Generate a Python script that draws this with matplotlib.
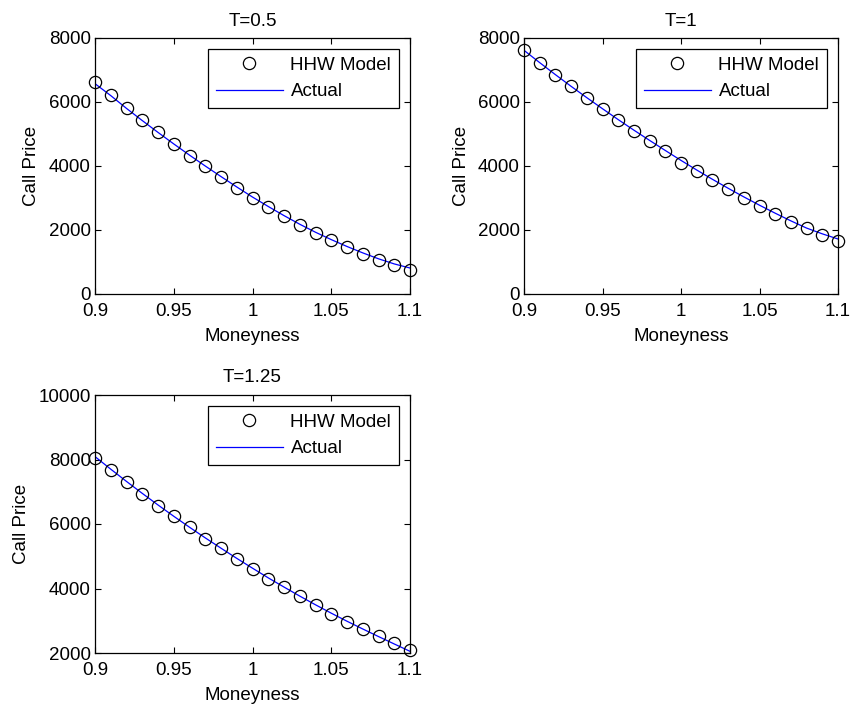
import matplotlib.pyplot as plt
import numpy as np

plt.rcParams['font.family'] = ['Liberation Sans', 'DejaVu Sans']
plt.rcParams['font.size'] = 13.5

moneyness = np.round(np.arange(0.90, 1.1001, 0.01), 2)

# T = 0.5
model_05 = [6615, 6229, 5812, 5427, 5052, 4688, 4323, 3990, 3646, 3323, 2990,
            2708, 2427, 2146, 1906, 1688, 1458, 1260, 1073, 896, 760]
actual_05 = [6573, 6200, 5800, 5420, 5050, 4690, 4340, 4000, 3670, 3345, 3030,
             2735, 2450, 2180, 1930, 1700, 1485, 1285, 1100, 940, 812]

# T = 1
model_1 = [7635, 7219, 6844, 6510, 6135, 5771, 5438, 5104, 4781, 4458, 4104,
           3833, 3552, 3271, 3000, 2760, 2490, 2260, 2052, 1844, 1646]
actual_1 = [7615, 7230, 6855, 6490, 6135, 5790, 5450, 5120, 4800, 4485, 4175,
            3875, 3585, 3305, 3035, 2775, 2525, 2285, 2060, 1880, 1719]

# T = 1.25
model_125 = [8039, 7677, 7306, 6924, 6573, 6243, 5902, 5541, 5252, 4921, 4601,
             4302, 4034, 3755, 3476, 3208, 2970, 2743, 2516, 2299, 2103]
actual_125 = [8090, 7700, 7320, 6950, 6590, 6240, 5900, 5570, 5250, 4935, 4630,
              4330, 4045, 3765, 3495, 3235, 2985, 2745, 2510, 2280, 2052]

panels = [
    ('T=0.5', model_05, actual_05, (0, 8000), [0, 2000, 4000, 6000, 8000],
     [95 / 850, (704 - 294) / 704, 315 / 850, 256 / 704]),
    ('T=1', model_1, actual_1, (0, 8000), [0, 2000, 4000, 6000, 8000],
     [524 / 850, (704 - 294) / 704, 314 / 850, 256 / 704]),
    ('T=1.25', model_125, actual_125, (2000, 10000), [2000, 4000, 6000, 8000, 10000],
     [95 / 850, (704 - 653) / 704, 315 / 850, 258 / 704]),
]

fig = plt.figure(figsize=(8.5, 7.04), dpi=100)
for title, model, actual, ylim, yticks, pos in panels:
    ax = fig.add_axes(pos)
    ax.plot(moneyness, model, 'o', mfc='none', mec='black', ms=8.8, mew=0.9,
            label='HHW Model', clip_on=False, zorder=3)
    ax.plot(moneyness, actual, '-', color='blue', lw=0.9, label='Actual')
    ax.set_xlim(0.9, 1.1)
    ax.set_ylim(*ylim)
    ax.set_xticks([0.9, 0.95, 1.0, 1.05, 1.1])
    ax.set_xticklabels(['0.9', '0.95', '1', '1.05', '1.1'])
    ax.set_yticks(yticks)
    ax.tick_params(direction='in', top=True, right=True, length=4)
    ax.tick_params(axis='x', pad=6.5)
    ax.tick_params(axis='y', pad=3)
    ax.set_title(title, fontsize=13.5, pad=9)
    ax.set_xlabel('Moneyness', labelpad=6)
    ax.set_ylabel('Call Price', labelpad=6)
    for s in ax.spines.values():
        s.set_linewidth(0.9)
    leg = ax.legend(loc='upper right', fancybox=False, edgecolor='black',
                    framealpha=1, handlelength=3.6, handletextpad=0.4,
                    borderpad=0.4, labelspacing=0.5, borderaxespad=0.6)
    leg.get_frame().set_linewidth(0.9)

fig.savefig('out.png', dpi=100)
